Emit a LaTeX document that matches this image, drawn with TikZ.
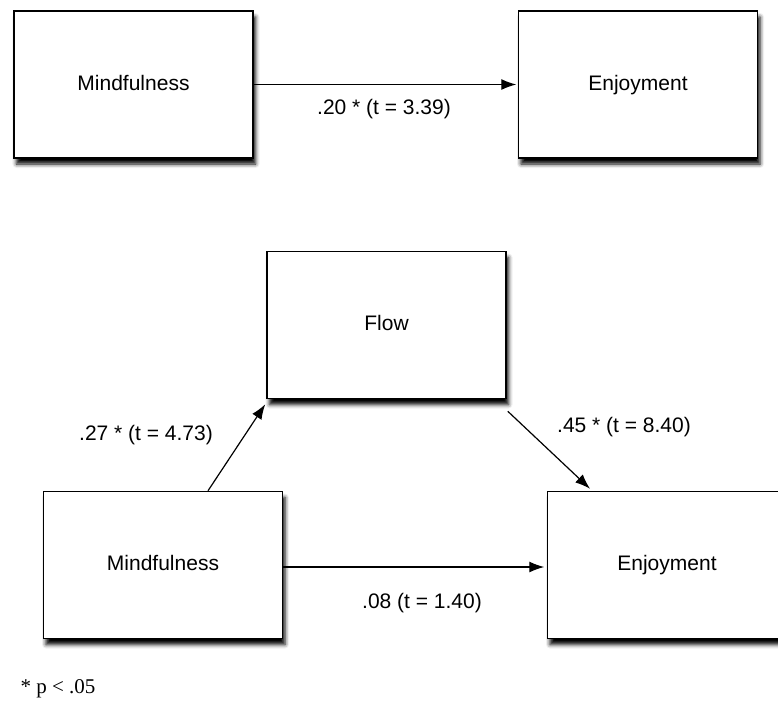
\documentclass[tikz,border=0pt]{standalone}
\usepackage{fontspec}
\setmainfont{Liberation Sans}
\newfontfamily\notefont{Liberation Serif}
\usepackage{tikz}
\usetikzlibrary{arrows.meta,shadows.blur}

\begin{document}
\begin{tikzpicture}[x=1pt,y=-1pt,font=\fontsize{21}{25}\selectfont,
	box/.style={rectangle,draw=black,line width=1.5pt,fill=white,
		minimum width=239pt,minimum height=147pt,text height=15pt,text depth=4pt,
		blur shadow={shadow xshift=2.5pt,shadow yshift=-6pt,shadow blur radius=4pt,shadow opacity=100}},
	link/.style={line width=1.2pt,-{Latex[length=15pt,width=11pt]}}]
	\useasboundingbox (0,0) rectangle (778,702);

	% model without mediator
	\node[box,name=mind1] at (133.5,84.5) {Mindfulness};
	\node[box,name=enjoy1] at (638,84.5) {Enjoyment};
	\node[name=c1] at (384,109) {.20 * (t = 3.39)};

	% mediation model
	\node[box,name=flow] at (386.5,325) {Flow};
	\node[box,name=mind2] at (163,565) {Mindfulness};
	\node[box,name=enjoy2] at (667,565) {Enjoyment};
	\node[name=a2] at (146,435) {.27 * (t = 4.73)};
	\node[name=b2] at (624,427) {.45 * (t = 8.40)};
	\node[name=c2] at (422,603) {.08 (t = 1.40)};
	\node[name=note,font=\notefont\fontsize{21}{24}\selectfont] at (58,689) {* p < .05};

	\path[link] (mind1.east) edge[shorten >=1.5pt] (enjoy1.west)
		([xshift=45pt]mind2.north) edge ([shift={(-1,5)}]flow.south west)
		([shift={(1,12)}]flow.south east) edge ([shift={(-77,-2)}]enjoy2.north)
		([yshift=-2pt]mind2.east) edge[shorten >=2.5pt] ([yshift=-2pt]enjoy2.west);
\end{tikzpicture}
\end{document}
